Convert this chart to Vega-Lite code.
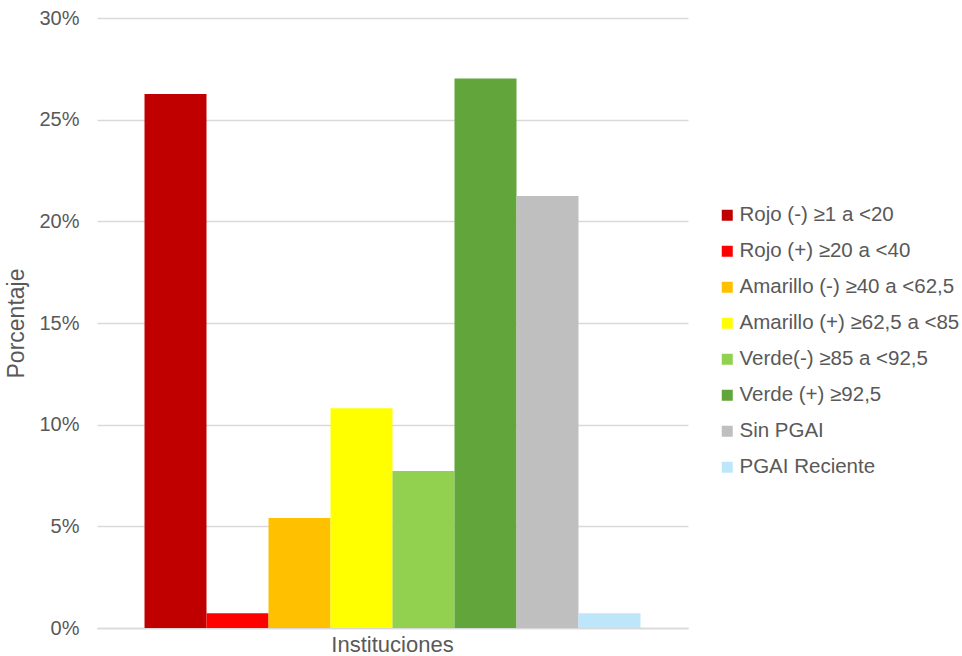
{
  "$schema": "https://vega.github.io/schema/vega-lite/v6.json",
  "width": 591,
  "height": 610,
  "autosize": {"type": "none"},
  "padding": {"left": 97, "top": 18, "right": 274, "bottom": 28},
  "background": "white",
  "config": {
    "font": "Liberation Sans",
    "view": {"stroke": null},
    "axis": {"labelFont": "Liberation Sans", "titleFont": "Liberation Sans"},
    "legend": {"labelFont": "Liberation Sans"}
  },
  "data": {
    "values": [
      {"cat": "Instituciones", "serie": "Rojo (-) ≥1 a <20", "valor": 0.2626},
      {"cat": "Instituciones", "serie": "Rojo (+) ≥20 a <40", "valor": 0.0073},
      {"cat": "Instituciones", "serie": "Amarillo (-) ≥40 a <62,5", "valor": 0.0541},
      {"cat": "Instituciones", "serie": "Amarillo (+) ≥62,5 a <85", "valor": 0.1081},
      {"cat": "Instituciones", "serie": "Verde(-) ≥85 a <92,5", "valor": 0.0772},
      {"cat": "Instituciones", "serie": "Verde (+) ≥92,5", "valor": 0.2703},
      {"cat": "Instituciones", "serie": "Sin PGAI", "valor": 0.2124},
      {"cat": "Instituciones", "serie": "PGAI Reciente", "valor": 0.0073}
    ]
  },
  "mark": {"type": "bar"},
  "encoding": {
    "x": {
      "field": "cat",
      "type": "nominal",
      "scale": {"paddingInner": 0, "paddingOuter": 0.0958},
      "axis": {
        "title": null,
        "labelAngle": 0,
        "labelFontSize": 22,
        "labelColor": "#595959",
        "ticks": false,
        "domainColor": "#d9d9d9",
        "domainWidth": 1.5,
        "labelPadding": 6
      }
    },
    "xOffset": {
      "field": "serie",
      "type": "nominal",
      "scale": {
        "domain": ["Rojo (-) ≥1 a <20", "Rojo (+) ≥20 a <40", "Amarillo (-) ≥40 a <62,5", "Amarillo (+) ≥62,5 a <85", "Verde(-) ≥85 a <92,5", "Verde (+) ≥92,5", "Sin PGAI", "PGAI Reciente"],
        "paddingInner": 0,
        "paddingOuter": 0
      }
    },
    "y": {
      "field": "valor",
      "type": "quantitative",
      "scale": {"domain": [0, 0.3], "nice": false},
      "axis": {
        "title": "Porcentaje",
        "titleFontSize": 23,
        "titleFontWeight": "normal",
        "titleColor": "#595959",
        "titlePadding": 10,
        "format": ".0%",
        "values": [0, 0.05, 0.1, 0.15, 0.2, 0.25, 0.3],
        "labelFontSize": 20,
        "labelColor": "#595959",
        "labelPadding": 18,
        "ticks": false,
        "domain": false,
        "grid": true,
        "gridColor": "#d9d9d9",
        "gridWidth": 1.5
      }
    },
    "color": {
      "field": "serie",
      "type": "nominal",
      "scale": {
        "domain": ["Rojo (-) ≥1 a <20", "Rojo (+) ≥20 a <40", "Amarillo (-) ≥40 a <62,5", "Amarillo (+) ≥62,5 a <85", "Verde(-) ≥85 a <92,5", "Verde (+) ≥92,5", "Sin PGAI", "PGAI Reciente"],
        "range": ["#C00000", "#FF0000", "#FFC000", "#FFFF00", "#92D050", "#62A53A", "#BFBFBF", "#BDE6FB"]
      },
      "legend": {
        "title": null,
        "orient": "none",
        "legendX": 620,
        "legendY": 187,
        "symbolType": "square",
        "symbolSize": 121,
        "symbolStrokeWidth": 0,
        "labelFontSize": 20.5,
        "labelColor": "#595959",
        "labelOffset": 2,
        "rowPadding": 15,
        "labelLimit": 300
      }
    }
  }
}
